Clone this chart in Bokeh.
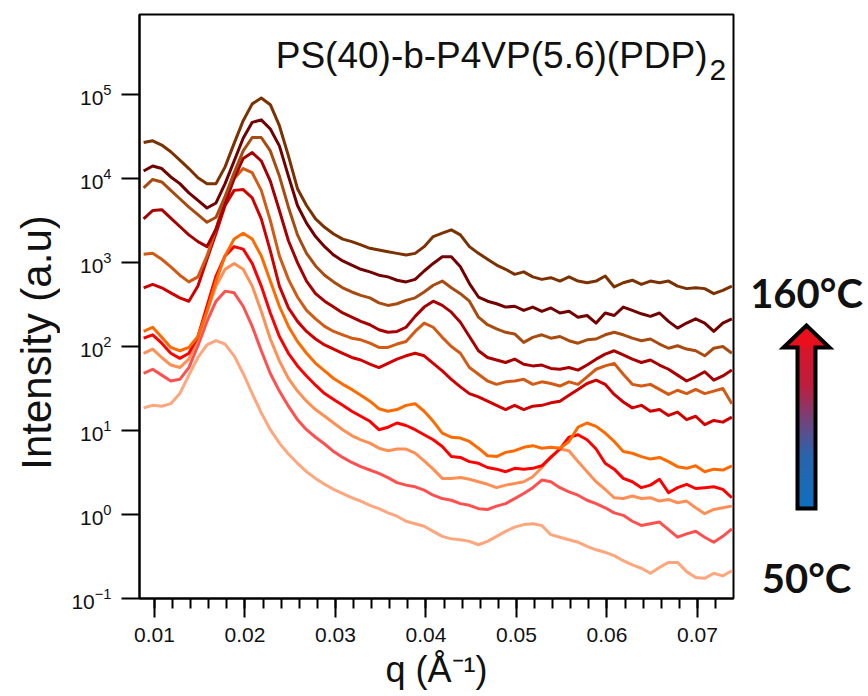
import numpy as np
from bokeh.plotting import figure
from bokeh.layouts import row
from bokeh.models import (Range1d, FixedTicker, LogTickFormatter,
                          SingleIntervalTicker, PrintfTickFormatter)
from bokeh.core.properties import value
from bokeh.embed import file_html
from bokeh.resources import INLINE

# Scattering vector q (1/Angstrom) at which each profile is sampled
q = [0.0088, 0.0098, 0.0108, 0.0118, 0.0128, 0.0138, 0.0148, 0.0158, 0.0168, 0.0178,
     0.0188, 0.0198, 0.0208, 0.0218, 0.0228, 0.0238, 0.0248, 0.0258, 0.0268, 0.0278,
     0.0288, 0.0298, 0.0308, 0.0318, 0.0328, 0.0338, 0.0348, 0.0358, 0.0368, 0.0378,
     0.0388, 0.0398, 0.0408, 0.0418, 0.0428, 0.0438, 0.0448, 0.0458, 0.0468, 0.0478,
     0.0488, 0.0498, 0.0508, 0.0518, 0.0528, 0.0538, 0.0548, 0.0558, 0.0568, 0.0578,
     0.0588, 0.0598, 0.0608, 0.0618, 0.0628, 0.0638, 0.0648, 0.0658, 0.0668, 0.0678,
     0.0688, 0.0698, 0.0708, 0.0718, 0.0728, 0.0738]

# log10 of the (vertically shifted) intensity, hottest profile first
log_i_160 = [4.43, 4.45, 4.40, 4.32, 4.22, 4.12, 4.01, 3.94, 3.94, 4.14,
             4.42, 4.69, 4.89, 4.96, 4.88, 4.63, 4.27, 3.88, 3.68, 3.52,
             3.42, 3.34, 3.28, 3.25, 3.21, 3.17, 3.15, 3.13, 3.11, 3.09,
             3.11, 3.19, 3.31, 3.35, 3.39, 3.33, 3.19, 3.11, 3.04, 2.97,
             2.92, 2.86, 2.89, 2.83, 2.80, 2.82, 2.78, 2.83, 2.78, 2.76,
             2.78, 2.84, 2.71, 2.76, 2.79, 2.74, 2.78, 2.76, 2.78, 2.72,
             2.69, 2.70, 2.69, 2.63, 2.67, 2.72]
log_i_149 = [4.09, 4.15, 4.12, 4.02, 3.94, 3.83, 3.74, 3.65, 3.71, 3.94,
             4.21, 4.48, 4.67, 4.70, 4.59, 4.39, 4.03, 3.68, 3.47, 3.31,
             3.19, 3.09, 3.02, 2.97, 2.92, 2.89, 2.85, 2.83, 2.79, 2.77,
             2.80, 2.90, 2.99, 3.07, 3.07, 2.95, 2.75, 2.59, 2.54, 2.51,
             2.47, 2.48, 2.43, 2.47, 2.42, 2.46, 2.40, 2.42, 2.35, 2.37,
             2.28, 2.40, 2.37, 2.47, 2.43, 2.39, 2.36, 2.40, 2.30, 2.22,
             2.28, 2.33, 2.28, 2.18, 2.28, 2.33]
log_i_138 = [3.89, 3.99, 3.96, 3.86, 3.76, 3.66, 3.57, 3.48, 3.54, 3.79,
             4.07, 4.33, 4.49, 4.49, 4.33, 4.03, 3.66, 3.33, 3.11, 2.96,
             2.85, 2.77, 2.70, 2.65, 2.61, 2.58, 2.52, 2.49, 2.51, 2.55,
             2.58, 2.65, 2.73, 2.78, 2.70, 2.63, 2.54, 2.35, 2.26, 2.21,
             2.17, 2.15, 2.05, 2.11, 2.14, 2.10, 2.12, 2.07, 2.04, 2.08,
             2.09, 2.14, 2.17, 2.14, 2.10, 2.07, 2.09, 2.03, 1.98, 2.01,
             1.97, 1.95, 1.89, 1.98, 2.00, 1.92]
log_i_127 = [3.52, 3.62, 3.63, 3.53, 3.43, 3.33, 3.25, 3.19, 3.40, 3.70,
             4.00, 4.24, 4.31, 4.21, 3.97, 3.62, 3.26, 3.00, 2.78, 2.63,
             2.54, 2.47, 2.40, 2.35, 2.30, 2.26, 2.20, 2.17, 2.18, 2.23,
             2.36, 2.47, 2.54, 2.49, 2.41, 2.29, 2.12, 1.95, 1.87, 1.84,
             1.81, 1.85, 1.79, 1.77, 1.78, 1.74, 1.73, 1.75, 1.72, 1.78,
             1.85, 1.91, 1.95, 1.90, 1.85, 1.81, 1.84, 1.78, 1.73, 1.66,
             1.59, 1.64, 1.70, 1.60, 1.65, 1.72]
log_i_116 = [3.10, 3.11, 3.04, 2.95, 2.85, 2.77, 2.83, 3.08, 3.40, 3.76,
             4.00, 4.12, 4.07, 3.86, 3.50, 3.08, 2.80, 2.59, 2.43, 2.33,
             2.24, 2.18, 2.14, 2.10, 2.08, 2.04, 1.99, 1.99, 2.03, 2.06,
             2.18, 2.28, 2.23, 2.11, 2.00, 1.92, 1.75, 1.67, 1.59, 1.55,
             1.58, 1.59, 1.61, 1.55, 1.58, 1.56, 1.53, 1.58, 1.55, 1.64,
             1.73, 1.77, 1.80, 1.67, 1.55, 1.53, 1.55, 1.49, 1.43, 1.48,
             1.44, 1.49, 1.44, 1.47, 1.50, 1.32]
log_i_105 = [2.70, 2.74, 2.70, 2.64, 2.58, 2.54, 2.72, 3.04, 3.35, 3.68,
             3.86, 3.87, 3.77, 3.52, 3.14, 2.72, 2.46, 2.30, 2.18, 2.09,
             2.02, 1.97, 1.92, 1.87, 1.84, 1.79, 1.75, 1.80, 1.85, 1.89,
             1.92, 1.89, 1.80, 1.71, 1.61, 1.52, 1.44, 1.40, 1.35, 1.30,
             1.25, 1.30, 1.25, 1.29, 1.30, 1.33, 1.35, 1.42, 1.49, 1.56,
             1.60, 1.55, 1.43, 1.34, 1.27, 1.30, 1.23, 1.25, 1.18, 1.22,
             1.13, 1.17, 1.07, 1.12, 1.10, 1.16]
log_i_94 = [2.18, 2.23, 2.11, 1.99, 1.95, 1.99, 2.12, 2.42, 2.78, 3.08,
            3.28, 3.35, 3.28, 3.08, 2.78, 2.48, 2.24, 2.06, 1.92, 1.80,
            1.71, 1.62, 1.55, 1.49, 1.42, 1.35, 1.26, 1.23, 1.25, 1.30,
            1.32, 1.23, 1.11, 0.97, 0.92, 0.91, 0.87, 0.79, 0.70, 0.69,
            0.74, 0.76, 0.80, 0.82, 0.79, 0.80, 0.79, 0.87, 1.04, 1.09,
            1.05, 0.97, 0.87, 0.75, 0.73, 0.69, 0.66, 0.68, 0.63, 0.57,
            0.55, 0.58, 0.51, 0.54, 0.53, 0.58]
log_i_83 = [2.10, 2.14, 2.04, 1.92, 1.86, 1.92, 2.12, 2.48, 2.84, 3.08,
            3.19, 3.16, 2.99, 2.72, 2.40, 2.12, 1.92, 1.77, 1.65, 1.54,
            1.44, 1.37, 1.30, 1.23, 1.17, 1.11, 1.01, 1.04, 1.09, 1.06,
            1.01, 0.95, 0.89, 0.81, 0.69, 0.68, 0.63, 0.61, 0.56, 0.54,
            0.51, 0.55, 0.54, 0.55, 0.58, 0.68, 0.78, 0.92, 0.95, 0.89,
            0.78, 0.61, 0.54, 0.43, 0.39, 0.32, 0.35, 0.42, 0.26, 0.32,
            0.36, 0.31, 0.32, 0.33, 0.30, 0.20]
log_i_72 = [1.92, 1.97, 1.87, 1.78, 1.75, 1.85, 2.09, 2.42, 2.72, 2.92,
            2.99, 2.92, 2.72, 2.42, 2.09, 1.83, 1.62, 1.47, 1.35, 1.25,
            1.17, 1.09, 1.01, 0.94, 0.89, 0.85, 0.79, 0.76, 0.78, 0.78,
            0.73, 0.64, 0.54, 0.43, 0.43, 0.44, 0.42, 0.39, 0.36, 0.32,
            0.35, 0.37, 0.39, 0.45, 0.56, 0.69, 0.78, 0.76, 0.63, 0.51,
            0.39, 0.30, 0.20, 0.19, 0.22, 0.19, 0.20, 0.16, 0.18, 0.14,
            0.16, 0.08, 0.01, 0.06, 0.08, 0.10]
log_i_61 = [1.68, 1.73, 1.66, 1.59, 1.61, 1.75, 2.01, 2.30, 2.54, 2.66,
            2.64, 2.48, 2.24, 1.95, 1.68, 1.47, 1.29, 1.13, 1.01, 0.92,
            0.84, 0.75, 0.68, 0.62, 0.57, 0.53, 0.49, 0.44, 0.38, 0.35,
            0.33, 0.29, 0.23, 0.19, 0.17, 0.13, 0.11, 0.07, 0.06, 0.10,
            0.13, 0.19, 0.25, 0.32, 0.41, 0.39, 0.32, 0.27, 0.23, 0.17,
            0.13, 0.08, 0.02, -0.01, -0.08, -0.13, -0.11, -0.09, -0.18, -0.27,
            -0.23, -0.20, -0.27, -0.33, -0.26, -0.17]
log_i_50 = [1.27, 1.30, 1.29, 1.32, 1.44, 1.66, 1.87, 2.02, 2.07, 2.03,
            1.89, 1.68, 1.44, 1.21, 1.01, 0.85, 0.72, 0.61, 0.51, 0.43,
            0.36, 0.30, 0.25, 0.20, 0.16, 0.11, 0.07, 0.02, -0.02, -0.08,
            -0.11, -0.14, -0.20, -0.26, -0.29, -0.30, -0.32, -0.36, -0.32, -0.26,
            -0.20, -0.15, -0.12, -0.11, -0.13, -0.24, -0.27, -0.30, -0.33, -0.38,
            -0.42, -0.45, -0.49, -0.55, -0.60, -0.64, -0.70, -0.63, -0.57, -0.57,
            -0.68, -0.75, -0.76, -0.70, -0.73, -0.67]

profiles = [log_i_160, log_i_149, log_i_138, log_i_127, log_i_116, log_i_105,
            log_i_94, log_i_83, log_i_72, log_i_61, log_i_50]
line_colors = ["#7b3100", "#730000", "#a84b10", "#a80000", "#d25a14", "#d00000",
               "#ff6a00", "#ff0000", "#ff8f55", "#ff5050", "#ffa67c"]

y_ticks = [0.1, 1, 10, 100, 1e3, 1e4, 1e5]

FONT = "Liberation Sans"
TOP, BOTTOM = 14, 98
H = 696


def blank_panel(width, x0):
    """Side panel without axes whose data units are page pixels."""
    f = figure(width=width, height=H, title=None,
               x_range=Range1d(x0, x0 + width),
               y_range=Range1d(H - BOTTOM, TOP), output_backend="svg",
               toolbar_location=None, x_axis_location=None,
               y_axis_location=None, min_border_left=0, min_border_right=0,
               min_border_top=TOP, min_border_bottom=BOTTOM)
    f.grid.visible = False
    f.outline_line_color = None
    f.background_fill_color = "white"
    f.border_fill_color = "white"
    return f


# ---- left strip: y axis title
pl = blank_panel(60, 0)
pl.text(x=[36], y=[342], text=["Intensity (a.u)"], angle=np.pi / 2,
        text_align="center", text_baseline="middle",
        text_font=value(FONT), text_font_size="42px", text_color="#111111")

# ---- main plot
p = figure(width=675, height=H, title=None,
           x_range=Range1d(0.008343, 0.07398), y_range=Range1d(0.1, 9.0e5),
           y_axis_type="log", output_backend="svg", toolbar_location=None,
           min_border_left=79, min_border_right=2, min_border_top=TOP,
           min_border_bottom=BOTTOM)
p.background_fill_color = "white"
p.border_fill_color = "white"
p.grid.visible = False
p.outline_line_color = "black"
p.outline_line_width = 2

# coolest profile drawn first so the hotter ones lie on top
for logs, col in reversed(list(zip(profiles, line_colors))):
    p.line(q, 10 ** np.array(logs), line_color=col, line_width=3,
           line_join="round")

xa = p.xaxis[0]
xa.ticker = SingleIntervalTicker(interval=0.01, num_minor_ticks=5)
xa.formatter = PrintfTickFormatter(format="%.2f")
ya = p.yaxis[0]
ya.ticker = FixedTicker(ticks=y_ticks, minor_ticks=[])
ya.formatter = LogTickFormatter()

for ax in (xa, ya):
    ax.axis_line_width = 2
    ax.axis_line_color = "black"
    ax.major_tick_line_width = 2
    ax.minor_tick_line_width = 2
    ax.major_tick_in = 0
    ax.minor_tick_in = 0
    ax.major_label_text_font = FONT
    ax.major_label_text_font_size = "21px"
    ax.major_label_text_color = "#111111"

xa.major_tick_out = 19
xa.minor_tick_out = 10
xa.major_label_standoff = 10
xa.axis_label = "q (Å⁻¹)"
xa.axis_label_text_font = FONT
xa.axis_label_text_font_style = "normal"
xa.axis_label_text_font_size = "36px"
xa.axis_label_text_color = "#111111"
xa.axis_label_standoff = 4

ya.major_tick_out = 18
ya.minor_tick_line_color = None
ya.major_label_standoff = 10

# sample name inside the frame, with subscript
p.text(x=[0.07111], y=[2.92e5], text=["PS(40)-b-P4VP(5.6)(PDP)"],
       text_align="right", text_baseline="alphabetic",
       text_font=value(FONT), text_font_size="37px", text_color="#111111")
p.text(x=[0.07133], y=[1.94e5], text=["2"],
       text_align="left", text_baseline="alphabetic",
       text_font=value(FONT), text_font_size="30px", text_color="#111111")

# ---- right strip: temperature arrow
pa = blank_panel(133, 735)

stop_y = np.array([325, 385, 425, 455, 508])
stop_rgb = np.array([[232, 16, 28], [190, 30, 62], [105, 72, 132],
                     [40, 100, 172], [16, 112, 192]])
ys = np.arange(345, 508)
cols = []
for yy in ys:
    r, g, b = (np.interp(yy, stop_y, stop_rgb[:, k]) for k in range(3))
    cols.append("#%02x%02x%02x" % (int(r), int(g), int(b)))
pa.quad(left=797, right=815, top=ys, bottom=ys + 1, fill_color=cols,
        line_color=cols, line_width=1)
pa.patch([806, 783, 829], [325, 347, 347], fill_color="#e8101c",
         line_color=None)
pa.patch([806, 783, 797, 797, 815, 815, 829],
         [325, 347, 347, 508, 508, 347, 347],
         fill_color=None, line_color="black", line_width=4,
         line_join="miter")

pa.text(x=[806], y=[292], text=["160°C"], text_align="center",
        text_baseline="alphabetic", text_font=value("Lato"),
        text_font_style="bold", text_font_size="40px", text_color="#111111")
pa.text(x=[806], y=[577], text=["50°C"], text_align="center",
        text_baseline="alphabetic", text_font=value("Lato"),
        text_font_style="bold", text_font_size="40px", text_color="#111111")

layout = row(pl, p, pa)
open("out.html", "w").write(file_html(layout, INLINE))
